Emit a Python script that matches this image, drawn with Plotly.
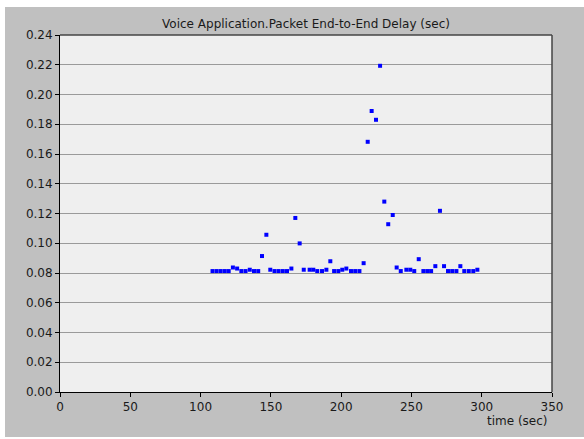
import plotly.graph_objects as go

# Data
time_sec = [108.5, 111.4, 114.3, 117.2, 120.0, 123.0, 126.0, 129.0, 132.0, 135.0,
            138.0, 141.0, 143.7, 146.8, 149.6, 152.6, 155.5, 158.5, 161.5, 164.6,
            167.4, 170.5, 173.4, 177.6, 180.2, 183.0, 186.4, 189.5, 192.3, 195.0,
            198.0, 200.8, 203.7, 207.0, 210.0, 213.0, 216.0, 218.9, 221.7, 224.8,
            227.7, 230.7, 233.5, 236.7, 239.5, 242.4, 246.4, 249.2, 252.0, 255.2,
            258.5, 261.3, 264.0, 267.0, 270.3, 273.2, 276.0, 279.0, 282.0, 284.8,
            287.6, 290.8, 294.0, 296.9]
delay_sec = [0.0813, 0.0813, 0.0813, 0.0813, 0.0813, 0.0837, 0.0830, 0.0813, 0.0813, 0.0822,
             0.0813, 0.0813, 0.0914, 0.1057, 0.0822, 0.0813, 0.0813, 0.0813, 0.0813, 0.0830,
             0.1170, 0.0999, 0.0822, 0.0822, 0.0822, 0.0813, 0.0813, 0.0822, 0.0879, 0.0813,
             0.0813, 0.0822, 0.0830, 0.0813, 0.0813, 0.0813, 0.0866, 0.1682, 0.1889, 0.1830,
             0.2193, 0.1280, 0.1128, 0.1190, 0.0837, 0.0813, 0.0822, 0.0822, 0.0813, 0.0893,
             0.0813, 0.0813, 0.0813, 0.0846, 0.1218, 0.0846, 0.0813, 0.0813, 0.0813, 0.0846,
             0.0813, 0.0813, 0.0813, 0.0822]

x_ticks = [0, 50, 100, 150, 200, 250, 300, 350]
y_ticks = [0.00, 0.02, 0.04, 0.06, 0.08, 0.10, 0.12, 0.14, 0.16, 0.18, 0.20, 0.22, 0.24]

title_text = "Voice Application.Packet End-to-End Delay (sec)"
x_label = "time (sec)"

W, H = 584, 439
L, R, T, B = 60, 32, 35, 47
pw, ph = W - L - R, H - T - B

def px(xp):
    return (xp - L) / pw

def py(yp):
    return (H - B - yp) / ph

FONT = "DejaVu Sans"

fig = go.Figure()
fig.add_trace(go.Scatter(
    x=time_sec, y=delay_sec, mode="markers",
    marker=dict(symbol="square", size=4, color="#0000ff", line=dict(width=0)),
    showlegend=False, hoverinfo="x+y",
))

shapes = [
    # white page border outside the gray panel
    dict(type="rect", xref="paper", yref="paper", x0=px(-5), x1=px(5), y0=py(-5), y1=py(H + 5),
         fillcolor="white", line=dict(width=0), layer="below"),
    dict(type="rect", xref="paper", yref="paper", x0=px(-5), x1=px(W + 5), y0=py(7), y1=py(-5),
         fillcolor="white", line=dict(width=0), layer="below"),
    dict(type="rect", xref="paper", yref="paper", x0=px(-5), x1=px(W + 5), y0=py(H + 5), y1=py(437),
         fillcolor="white", line=dict(width=0), layer="below"),
    # top and right frame of the plot area
    dict(type="line", xref="paper", yref="paper", x0=0, x1=1, y0=1, y1=1,
         line=dict(color="#454545", width=1.5)),
    dict(type="line", xref="paper", yref="paper", x0=1, x1=1, y0=0, y1=1,
         line=dict(color="#454545", width=1.5)),
]

fig.update_layout(
    width=W, height=H,
    margin=dict(l=L, r=R, t=T, b=B, pad=0),
    paper_bgcolor="#c0c0c0",
    plot_bgcolor="#efefef",
    font=dict(family=FONT, size=12, color="#1a1a1a"),
    title=dict(text=title_text, x=0.5, xref="paper", xanchor="center",
               y=1 - 24 / H, yref="container", yanchor="middle",
               font=dict(family=FONT, size=12, color="#1a1a1a")),
    xaxis=dict(range=[0, 350], tickvals=x_ticks, ticktext=[str(v) for v in x_ticks],
               showgrid=False, zeroline=False, showline=True, linecolor="#000000", linewidth=1,
               ticks="outside", ticklen=4, tickcolor="#000000", tickwidth=1,
               tickfont=dict(family=FONT, size=12, color="#1a1a1a")),
    yaxis=dict(range=[0, 0.24], tickvals=y_ticks, ticktext=[f"{v:.2f}" for v in y_ticks],
               showgrid=True, gridcolor="#9a9a9a", gridwidth=1, zeroline=False,
               showline=True, linecolor="#000000", linewidth=1,
               ticks="outside", ticklen=4, tickcolor="#000000", tickwidth=1,
               tickfont=dict(family=FONT, size=12, color="#1a1a1a")),
    shapes=shapes,
    annotations=[dict(text=x_label, xref="paper", yref="paper", x=px(550), y=py(421),
                      xanchor="right", yanchor="middle", showarrow=False,
                      font=dict(family=FONT, size=12, color="#1a1a1a"))],
)

fig.write_html("out.html")
